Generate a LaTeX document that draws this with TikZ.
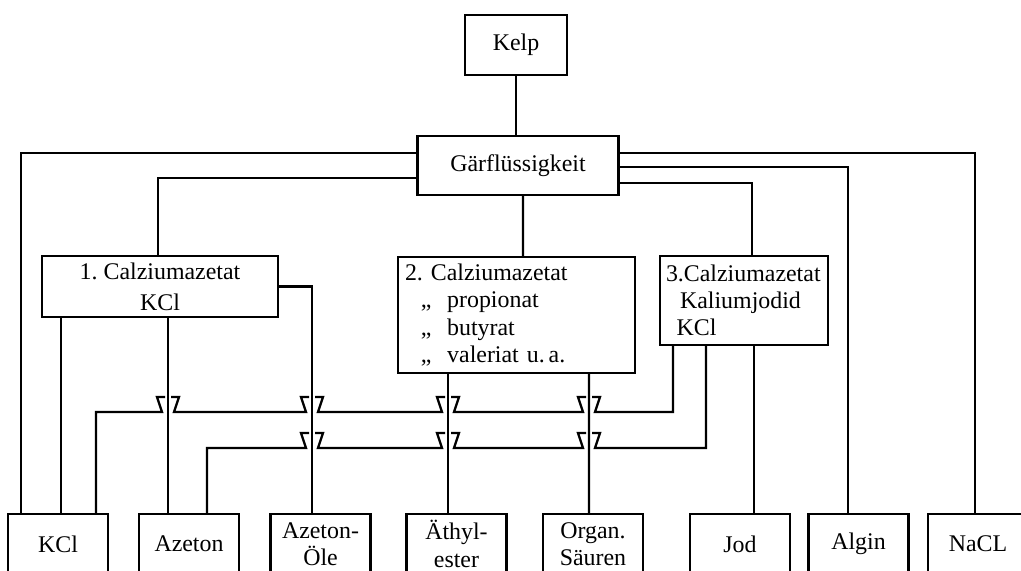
\documentclass[tikz,border=0pt]{standalone}
\usepackage{fontspec}
\setmainfont{Liberation Serif}
\usetikzlibrary{calc}
\tikzset{
  every picture/.append style={font=\fontsize{13.6}{15.5}\selectfont},
  box/.style={rectangle,draw,line width=1.3pt,inner sep=2pt,align=center},
  endbox/.style={box,minimum width=2cm,minimum height=1.2cm},
  link/.style={line width=1.3pt},
}
\frenchspacing
\begin{document}
\begin{tikzpicture}[x=0.02cm,y=-0.02cm]
  \clip (0,0) rectangle (1021,571);
  \node[box,minimum width=2.04cm,minimum height=1.2cm] (kelp) at (516,45) {Kelp};
  \node[box,minimum width=4.02cm,minimum height=1.18cm] (gaer) at (518,165.5) {Gärflüssigkeit};
  \node[box,minimum width=4.72cm,minimum height=1.22cm] (ca1) at (160,286.5) {1. Calziumazetat\\[2pt]KCl};
  \node[box,inner xsep=0.14cm,text width=4.46cm,minimum height=2.32cm,align=left] (ca2) at (516.5,315) {2. Calziumazetat\\
    \hspace*{9pt}\makebox[15pt][l]{,,}propionat\\
    \hspace*{9pt}\makebox[15pt][l]{,,}butyrat\\
    \hspace*{9pt}\makebox[15pt][l]{,,}valeriat u.\,a.};
  \node[box,inner xsep=0.12cm,text width=3.12cm,minimum height=1.78cm,align=left] (ca3) at (744,300.5) {3.Calziumazetat\\
    \hspace*{8pt}Kaliumjodid\\
    \hspace*{6pt}KCl};
  \node[endbox] (kcl) at (58,544) {KCl};
  \node[endbox] (azeton) at (189,544) {Azeton};
  \node[endbox] (azoele) at (320.5,544) {Azeton-\\Öle};
  \node[endbox] (aethyl) at (456.5,544) {Äthyl-\\ester};
  \node[endbox] (organ) at (593,544) {Organ.\\Säuren};
  \node[endbox] (jod) at (740,544) {Jod};
  \node[endbox] (algin) at (858.5,544) {Algin};
  \node[endbox] (nacl) at (978,544) {NaCL};
  \draw[link] (kelp.south) -- (kelp.south |- gaer.north);
  \draw[link] ($(gaer.west)+(0,-12.5)$) -| ($(kcl.north)+(-37,0)$);
  \draw[link] ($(gaer.west)+(0,12.5)$) -| ($(ca1.north)+(-2,0)$);
  \draw[link] ($(gaer.east)+(0,-12.5)$) -| ($(nacl.north)+(-3,0)$);
  \draw[link] ($(gaer.east)+(0,1.5)$) -| ($(algin.north)+(-10.5,0)$);
  \draw[link] ($(gaer.east)+(0,17.5)$) -| ($(ca3.north)+(8,0)$);
  \draw[link] ($(gaer.south)+(5,0)$) -- ($(ca2.north)+(6.5,0)$);
  \draw[link] ($(ca1.south)+(-99,0)$) -- ($(kcl.north)+(3,0)$);
  \draw[link] ($(ca1.south)+(8,0)$) -- ($(azeton.north)+(-21,0)$);
  \draw[link] (ca1.east) -| ($(azoele.north)+(-8.5,0)$);
  \draw[link] ($(ca2.south)+(-68.5,0)$) -- ($(aethyl.north)+(-8.5,0)$);
  \draw[link] ($(ca2.south)+(72.5,0)$) -- ($(organ.north)+(-4,0)$);
  \draw[link] ($(ca3.south)+(10,0)$) -- ($(jod.north)+(14,0)$);
  \coordinate (busA) at (0,412);
  \coordinate (busB) at (0,448);
  \coordinate (ka) at ($(ca3.south)+(-71,0)$);
  \coordinate (kb) at ($(ca3.south)+(-38,0)$);
  \draw[link] (ka) -- (ka |- busA)
    \foreach \xc in {589,448,312,168} {-- (\xc+6,412) -- (\xc+11,397) -- (\xc+3,397) (\xc-3,397) -- (\xc-11,397) -- (\xc-6,412)}
    -| ($(kcl.north)+(38,0)$);
  \draw[link] (kb) -- (kb |- busB)
    \foreach \xc in {589,448,312} {-- (\xc+6,448) -- (\xc+11,433) -- (\xc+3,433) (\xc-3,433) -- (\xc-11,433) -- (\xc-6,448)}
    -| ($(azeton.north)+(18,0)$);
\end{tikzpicture}
\end{document}
